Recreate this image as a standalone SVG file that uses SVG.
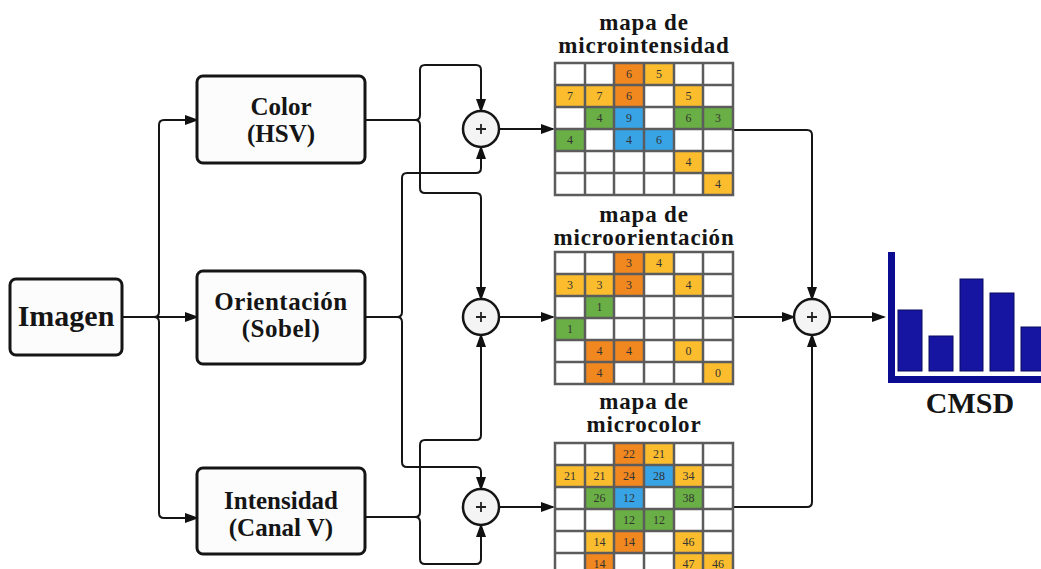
<svg xmlns="http://www.w3.org/2000/svg" width="1041" height="569" viewBox="0 0 1041 569">
  <defs>
    <marker id="arrow" viewBox="0 0 14 10" refX="12" refY="5" markerWidth="14" markerHeight="10" markerUnits="userSpaceOnUse" orient="auto">
      <path d="M0,0 L14,5 L0,10 z" fill="#111"/>
    </marker>
    <style>
      .box { fill: #fcfcfc; stroke: #151515; stroke-width: 3; }
      .lbl { font-family: "Liberation Serif", "DejaVu Serif", serif; font-weight: bold; fill: #151515; text-anchor: middle; }
      .ttl { font-family: "Liberation Serif", "DejaVu Serif", serif; font-weight: bold; fill: #151515; text-anchor: middle; font-size: 23px; letter-spacing: 0.8px; }
      .wire { fill: none; stroke: #151515; stroke-width: 2; }
      .sum { fill: #f4f4f4; stroke: #151515; stroke-width: 2.5; }
      .plus { stroke: #222; stroke-width: 1.8; }
      .grid { fill: none; stroke: #5c5c5c; stroke-width: 2.5; }
      .cellbg { fill: #ffffff; }
      .Y { fill: #fbbd2e; }
      .O { fill: #f0871f; }
      .G { fill: #6aaf45; }
      .B { fill: #38a4e6; }
      .num { font-family: "Liberation Serif", "DejaVu Serif", serif; font-size: 12px; fill: #333; text-anchor: middle; }
      .axis { fill: #0c0c92; }
      .bar { fill: #1515a2; stroke: #0a0a5e; stroke-width: 1; }
    </style>
  </defs>

  <rect width="1041" height="569" fill="#ffffff"/>

  <!-- connectors -->
  <g id="connectors">
    <!-- input image fan-out -->
    <path class="wire" d="M122,317 H197" marker-end="url(#arrow)"/>
    <path class="wire" d="M154,317 Q159,317 159,312 V125 Q159,120 164,120 H197" marker-end="url(#arrow)"/>
    <path class="wire" d="M154,317 Q159,317 159,322 V513 Q159,518 164,518 H197" marker-end="url(#arrow)"/>

    <!-- colour branch -->
    <path class="wire" d="M365,120 H415 Q420,120 420,115 V70 Q420,65 425,65 H476 Q481,65 481,70 V111" marker-end="url(#arrow)"/>
    <path class="wire" d="M415,120 Q420,120 420,125 V188 Q420,193 425,193 H476 Q481,193 481,198 V299" marker-end="url(#arrow)"/>

    <!-- orientation branch -->
    <path class="wire" d="M365,317 H397 Q402,317 402,312 V178 Q402,173 407,173 H476 Q481,173 481,168 V147" marker-end="url(#arrow)"/>
    <path class="wire" d="M397,317 Q402,317 402,322 V462 Q402,467 407,467 H476 Q481,467 481,472 V489" marker-end="url(#arrow)"/>

    <!-- intensity branch -->
    <path class="wire" d="M365,517 H415 Q420,517 420,512 V445 Q420,440 425,440 H476 Q481,440 481,435 V335" marker-end="url(#arrow)"/>
    <path class="wire" d="M415,517 Q420,517 420,522 V559 Q420,564 425,564 H476 Q481,564 481,559 V525" marker-end="url(#arrow)"/>

    <!-- sums to maps -->
    <path class="wire" d="M499,129 H553" marker-end="url(#arrow)"/>
    <path class="wire" d="M499,317 H553" marker-end="url(#arrow)"/>
    <path class="wire" d="M499,507 H553" marker-end="url(#arrow)"/>

    <!-- maps to final sum -->
    <path class="wire" d="M733,130 H807 Q812,130 812,135 V299" marker-end="url(#arrow)"/>
    <path class="wire" d="M733,317 H794" marker-end="url(#arrow)"/>
    <path class="wire" d="M733,507 H807 Q812,507 812,502 V335" marker-end="url(#arrow)"/>

    <!-- final sum to histogram -->
    <path class="wire" d="M830,317 H884" marker-end="url(#arrow)"/>
  </g>

  <!-- processing blocks -->
  <g id="imagen">
    <rect class="box" x="10" y="279" width="112" height="76" rx="6"/>
    <text class="lbl" x="66" y="326" font-size="30">Imagen</text>
  </g>
  <g id="color">
    <rect class="box" x="197" y="76" width="168" height="87" rx="6"/>
    <text class="lbl" x="281" y="115" font-size="25">Color</text>
    <text class="lbl" x="281" y="142" font-size="25">(HSV)</text>
  </g>
  <g id="orientacion">
    <rect class="box" x="197" y="271" width="168" height="93" rx="6"/>
    <text class="lbl" x="281" y="310" font-size="25" letter-spacing="0.5">Orientación</text>
    <text class="lbl" x="281" y="337" font-size="25" letter-spacing="0.5">(Sobel)</text>
  </g>
  <g id="intensidad">
    <rect class="box" x="197" y="468" width="168" height="86" rx="6"/>
    <text class="lbl" x="281" y="509" font-size="25">Intensidad</text>
    <text class="lbl" x="281" y="536" font-size="25">(Canal V)</text>
  </g>

  <!-- summing junctions -->
  <g id="sum-intensity">
    <circle class="sum" cx="481" cy="129" r="18"/>
    <path class="plus" d="M476,129 H486 M481,124 V134"/>
  </g>
  <g id="sum-orientation">
    <circle class="sum" cx="481" cy="317" r="18"/>
    <path class="plus" d="M476,317 H486 M481,312 V322"/>
  </g>
  <g id="sum-color">
    <circle class="sum" cx="481" cy="507" r="18"/>
    <path class="plus" d="M476,507 H486 M481,502 V512"/>
  </g>
  <g id="sum-final">
    <circle class="sum" cx="812" cy="317" r="18"/>
    <path class="plus" d="M807,317 H817 M812,312 V322"/>
  </g>

  <!-- micro-intensity map -->
  <g id="map-intensity">
    <text class="ttl" x="644" y="30">mapa de</text>
    <text class="ttl" x="644" y="53">microintensidad</text>
    <rect class="cellbg" x="555" y="63" width="178" height="132"/>
    <rect class="O" x="614" y="63" width="30" height="22"/><text class="num" x="629" y="78">6</text>
    <rect class="Y" x="644" y="63" width="30" height="22"/><text class="num" x="659" y="78">5</text>
    <rect class="Y" x="555" y="85" width="30" height="22"/><text class="num" x="570" y="100">7</text>
    <rect class="Y" x="585" y="85" width="29" height="22"/><text class="num" x="599.5" y="100">7</text>
    <rect class="O" x="614" y="85" width="30" height="22"/><text class="num" x="629" y="100">6</text>
    <rect class="Y" x="674" y="85" width="29" height="22"/><text class="num" x="688.5" y="100">5</text>
    <rect class="G" x="585" y="107" width="29" height="22"/><text class="num" x="599.5" y="122">4</text>
    <rect class="B" x="614" y="107" width="30" height="22"/><text class="num" x="629" y="122">9</text>
    <rect class="G" x="674" y="107" width="29" height="22"/><text class="num" x="688.5" y="122">6</text>
    <rect class="G" x="703" y="107" width="30" height="22"/><text class="num" x="718" y="122">3</text>
    <rect class="G" x="555" y="129" width="30" height="22"/><text class="num" x="570" y="144">4</text>
    <rect class="B" x="614" y="129" width="30" height="22"/><text class="num" x="629" y="144">4</text>
    <rect class="B" x="644" y="129" width="30" height="22"/><text class="num" x="659" y="144">6</text>
    <rect class="Y" x="674" y="151" width="29" height="22"/><text class="num" x="688.5" y="166">4</text>
    <rect class="Y" x="703" y="173" width="30" height="22"/><text class="num" x="718" y="188">4</text>
    <path class="grid" d="M555,63 H733 V195 H555 Z M585,63 V195 M614,63 V195 M644,63 V195 M674,63 V195 M703,63 V195 M555,85 H733 M555,107 H733 M555,129 H733 M555,151 H733 M555,173 H733"/>
  </g>

  <!-- micro-orientation map -->
  <g id="map-orientation">
    <text class="ttl" x="644" y="222">mapa de</text>
    <text class="ttl" x="644" y="245">microorientación</text>
    <rect class="cellbg" x="555" y="252" width="178" height="132"/>
    <rect class="O" x="614" y="252" width="30" height="22"/><text class="num" x="629" y="267">3</text>
    <rect class="Y" x="644" y="252" width="30" height="22"/><text class="num" x="659" y="267">4</text>
    <rect class="Y" x="555" y="274" width="30" height="22"/><text class="num" x="570" y="289">3</text>
    <rect class="Y" x="585" y="274" width="29" height="22"/><text class="num" x="599.5" y="289">3</text>
    <rect class="O" x="614" y="274" width="30" height="22"/><text class="num" x="629" y="289">3</text>
    <rect class="Y" x="674" y="274" width="29" height="22"/><text class="num" x="688.5" y="289">4</text>
    <rect class="G" x="585" y="296" width="29" height="22"/><text class="num" x="599.5" y="311">1</text>
    <rect class="G" x="555" y="318" width="30" height="22"/><text class="num" x="570" y="333">1</text>
    <rect class="O" x="585" y="340" width="29" height="22"/><text class="num" x="599.5" y="355">4</text>
    <rect class="O" x="614" y="340" width="30" height="22"/><text class="num" x="629" y="355">4</text>
    <rect class="Y" x="674" y="340" width="29" height="22"/><text class="num" x="688.5" y="355">0</text>
    <rect class="O" x="585" y="362" width="29" height="22"/><text class="num" x="599.5" y="377">4</text>
    <rect class="Y" x="703" y="362" width="30" height="22"/><text class="num" x="718" y="377">0</text>
    <path class="grid" d="M555,252 H733 V384 H555 Z M585,252 V384 M614,252 V384 M644,252 V384 M674,252 V384 M703,252 V384 M555,274 H733 M555,296 H733 M555,318 H733 M555,340 H733 M555,362 H733"/>
  </g>

  <!-- micro-colour map -->
  <g id="map-color">
    <text class="ttl" x="644" y="409">mapa de</text>
    <text class="ttl" x="644" y="432">microcolor</text>
    <rect class="cellbg" x="555" y="443" width="178" height="132"/>
    <rect class="O" x="614" y="443" width="30" height="22"/><text class="num" x="629" y="458">22</text>
    <rect class="Y" x="644" y="443" width="30" height="22"/><text class="num" x="659" y="458">21</text>
    <rect class="Y" x="555" y="465" width="30" height="22"/><text class="num" x="570" y="480">21</text>
    <rect class="Y" x="585" y="465" width="29" height="22"/><text class="num" x="599.5" y="480">21</text>
    <rect class="O" x="614" y="465" width="30" height="22"/><text class="num" x="629" y="480">24</text>
    <rect class="B" x="644" y="465" width="30" height="22"/><text class="num" x="659" y="480">28</text>
    <rect class="Y" x="674" y="465" width="29" height="22"/><text class="num" x="688.5" y="480">34</text>
    <rect class="G" x="585" y="487" width="29" height="22"/><text class="num" x="599.5" y="502">26</text>
    <rect class="B" x="614" y="487" width="30" height="22"/><text class="num" x="629" y="502">12</text>
    <rect class="G" x="674" y="487" width="29" height="22"/><text class="num" x="688.5" y="502">38</text>
    <rect class="G" x="614" y="509" width="30" height="22"/><text class="num" x="629" y="524">12</text>
    <rect class="G" x="644" y="509" width="30" height="22"/><text class="num" x="659" y="524">12</text>
    <rect class="Y" x="585" y="531" width="29" height="22"/><text class="num" x="599.5" y="546">14</text>
    <rect class="O" x="614" y="531" width="30" height="22"/><text class="num" x="629" y="546">14</text>
    <rect class="Y" x="674" y="531" width="29" height="22"/><text class="num" x="688.5" y="546">46</text>
    <rect class="O" x="585" y="553" width="29" height="22"/><text class="num" x="599.5" y="568">14</text>
    <rect class="Y" x="674" y="553" width="29" height="22"/><text class="num" x="688.5" y="568">47</text>
    <rect class="Y" x="703" y="553" width="30" height="22"/><text class="num" x="718" y="568">46</text>
    <path class="grid" d="M555,443 H733 V575 H555 Z M585,443 V575 M614,443 V575 M644,443 V575 M674,443 V575 M703,443 V575 M555,465 H733 M555,487 H733 M555,509 H733 M555,531 H733 M555,553 H733"/>
  </g>

  <!-- CMSD histogram -->
  <g id="histogram">
    <rect class="bar" x="898" y="310" width="24" height="61"/>
    <rect class="bar" x="929" y="336" width="24" height="35"/>
    <rect class="bar" x="960" y="279" width="23" height="92"/>
    <rect class="bar" x="990" y="293" width="24" height="78"/>
    <rect class="bar" x="1021" y="327" width="24" height="44"/>
    <rect class="axis" x="888" y="252" width="7" height="131"/>
    <rect class="axis" x="888" y="376" width="153" height="7"/>
    <text class="lbl" x="970" y="413" font-size="30">CMSD</text>
  </g>
</svg>
